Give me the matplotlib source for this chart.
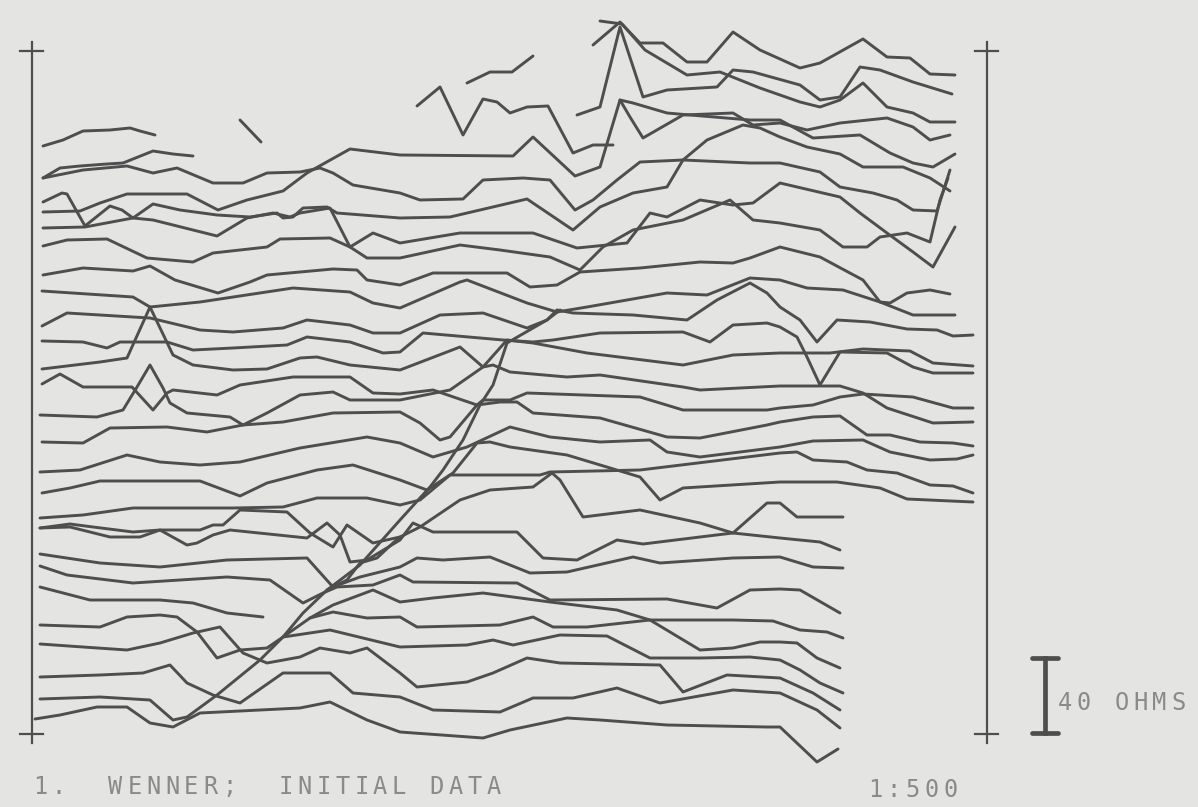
import matplotlib
matplotlib.use("Agg")
import matplotlib.pyplot as plt

# traces: (distance, plotted value) pairs, one list per traverse
t01 = [(43,146),(63,140),(83,131),(110,130),(130,128),(140,131),(155,135)]
t02 = [(240,120),(261,142)]
t03 = [(467,83),(490,72),(512,72),(533,56)]
t04 = [(417,106),(440,87),(463,135),(483,99),(497,102),(510,113),(527,107),(548,106),(573,153),(593,145),(613,145)]
t05 = [(577,115),(600,107),(620,27),(643,97),(667,90),(717,87),(733,70),(753,72),(800,85),(820,100),(840,97),(860,67),(880,70),(913,82),(952,94)]
t06 = [(593,45),(620,22),(640,43),(663,43),(687,62),(707,62),(733,32),(760,50),(800,68),(820,63),(863,39),(887,57),(910,58),(930,74),(955,75)]
t07 = [(600,21),(622,24),(645,50),(687,75),(720,72),(760,88),(800,102),(820,107),(840,100),(863,83),(887,107),(913,113),(930,122),(955,122)]
t08 = [(43,178),(60,168),(80,166),(107,164),(123,163),(153,151),(173,154),(193,156)]
t09 = [(43,178),(83,170),(127,166),(153,173),(177,168),(213,183),(243,183),(267,173),(300,172),(320,168),(333,173),(353,185),(400,193),(420,200),(463,199),(483,180),(523,178),(550,180),(575,210),(593,200),(617,180),(640,162),(683,160),(750,163),(780,163),(820,172),(840,187),(873,193),(897,200),(913,210),(937,211),(950,170)]
t10 = [(43,212),(80,211),(100,203),(127,194),(187,194),(218,210),(247,200),(283,191),(307,173),(350,149),(400,155),(513,156),(533,137),(575,176),(600,167),(620,100),(633,103),(667,113),(690,115),(750,120),(780,120),(813,138),(860,135),(890,153),(913,163),(933,167),(955,154)]
t11 = [(620,100),(630,117),(643,138),(683,115),(733,113),(753,125),(780,123),(807,130),(840,123),(887,118),(913,127),(930,140),(950,135)]
t12 = [(43,202),(62,193),(67,194),(85,226),(110,206),(122,210),(133,218),(153,204),(180,210),(217,215),(250,217),(277,213),(283,218),(293,217),(303,208),(327,207),(337,213),(400,218),(450,217),(527,199),(573,230),(600,207),(633,193),(667,187),(683,160),(707,140),(743,125),(760,128),(780,137),(807,147),(840,154),(863,167),(903,167),(930,178),(950,191)]
t13 = [(43,228),(85,227),(133,218),(153,220),(217,236),(247,218),(273,213),(290,217),(300,213),(330,208),(350,247),(373,233),(400,243),(460,233),(533,233),(577,248),(627,243),(650,213),(667,217),(700,200),(733,205),(753,203),(780,183),(840,197),(860,213),(887,233),(913,252),(933,267),(955,227)]
t14 = [(43,246),(67,240),(107,239),(147,258),(193,262),(213,253),(267,247),(280,239),(330,238),(350,247),(367,258),(400,258),(460,245),(500,250),(550,257),(580,270),(603,247),(633,230),(683,220),(730,200),(753,220),(780,223),(820,230),(843,247),(867,247),(880,237),(907,233),(930,242),(940,200),(948,178)]
t15 = [(43,275),(83,268),(133,271),(150,266),(175,280),(218,293),(250,282),(267,275),(333,269),(357,270),(367,280),(400,285),(433,273),(507,273),(530,287),(557,285),(580,272),(640,268),(700,262),(733,263),(750,258),(780,247),(820,257),(863,280),(880,302),(913,315),(955,315)]
t16 = [(42,291),(133,297),(150,307),(200,302),(293,288),(350,292),(373,303),(400,308),(460,282),(467,280),(527,303),(557,312),(587,307),(667,293),(707,295),(750,278),(780,280),(807,288),(843,290),(880,302),(890,303),(907,293),(930,290),(950,294)]
t17 = [(42,326),(67,313),(133,317),(150,318),(200,330),(233,332),(283,328),(307,320),(350,325),(373,333),(400,333),(440,315),(483,313),(527,328),(547,320),(557,310),(573,313),(633,315),(687,320),(717,300),(750,283),(767,293),(780,307),(800,320),(817,342),(837,320),(870,322),(907,329),(937,330),(953,336),(973,335)]
t18 = [(42,341),(83,342),(107,348),(120,342),(167,342),(193,350),(233,348),(287,345),(307,337),(350,342),(383,353),(400,352),(423,333),(503,340),(533,342),(553,340),(600,333),(683,332),(710,342),(733,325),(767,323),(780,327),(797,337),(807,357),(820,385),(840,352),(887,353),(913,367),(933,373),(973,373)]
t19 = [(42,369),(100,362),(127,358),(150,307),(173,355),(193,365),(233,370),(267,369),(300,358),(317,357),(350,365),(400,370),(460,347),(483,367),(507,340),(533,343),(587,353),(683,365),(733,355),(780,353),(830,353),(863,349),(910,351),(933,363),(973,366)]
t20 = [(42,384),(60,374),(83,387),(132,387),(153,410),(167,393),(173,390),(217,395),(240,385),(293,377),(350,377),(373,393),(400,394),(433,390),(477,405),(483,400),(510,400),(527,393),(640,397),(683,410),(767,410),(780,408),(813,405),(840,397),(863,394),(913,397),(953,408),(973,408)]
t21 = [(40,415),(97,417),(123,410),(137,387),(150,365),(163,388),(170,403),(187,413),(230,417),(243,425),(267,413),(300,395),(333,392),(350,400),(400,400),(450,390),(483,367),(493,365),(510,372),(567,377),(600,375),(683,387),(700,390),(780,386),(840,386),(863,393),(887,408),(933,423),(973,422)]
t22 = [(42,442),(83,443),(110,428),(167,427),(207,432),(243,425),(283,422),(333,413),(400,412),(420,423),(440,440),(450,437),(477,405),(500,402),(517,402),(533,413),(600,418),(667,437),(700,438),(767,425),(780,422),(813,417),(840,416),(867,435),(890,435),(920,442),(953,443),(973,446)]
t23 = [(40,472),(80,470),(127,455),(160,462),(200,465),(240,462),(300,448),(367,437),(400,443),(433,457),(467,447),(510,427),(550,437),(600,442),(650,440),(667,452),(700,457),(780,447),(813,441),(863,440),(890,452),(930,460),(957,459),(973,455)]
t24 = [(42,493),(70,488),(100,481),(200,481),(240,496),(267,483),(317,470),(353,465),(400,480),(427,490),(453,473),(477,443),(490,442),(510,447),(567,455),(640,477),(660,500),(683,488),(780,482),(837,482),(880,488),(907,499),(973,502)]
t25 = [(40,518),(83,515),(133,508),(233,508),(283,507),(317,498),(367,498),(400,505),(420,500),(450,475),(540,475),(550,472),(640,470),(780,453),(797,452),(813,460),(847,462),(867,470),(897,473),(930,485),(953,486),(973,493)]
t26 = [(40,528),(70,524),(93,527),(133,532),(160,530),(200,530),(213,525),(223,525),(240,510),(287,512),(310,533),(333,547),(347,525),(373,543),(400,537),(420,527),(460,500),(490,490),(533,487),(552,473),(560,480),(583,517),(640,510),(700,523),(733,533),(767,503),(780,503),(797,517),(843,517)]
t27 = [(40,528),(70,527),(110,537),(140,537),(160,530),(187,545),(197,543),(213,535),(230,530),(307,538),(327,523),(340,535),(350,562),(367,560),(400,540),(413,523),(433,532),(517,532),(543,558),(577,560),(617,540),(643,544),(700,537),(733,533),(780,538),(820,542),(840,550)]
t28 = [(40,554),(100,563),(160,567),(227,560),(307,558),(333,587),(360,577),(400,567),(417,558),(443,560),(490,557),(530,573),(567,572),(633,557),(660,563),(733,558),(780,557),(813,567),(843,568)]
t29 = [(40,566),(67,575),(133,583),(227,577),(270,580),(303,603),(323,593),(337,587),(373,585),(400,575),(413,582),(517,583),(550,600),(667,599),(717,608),(750,590),(780,589),(800,590),(840,613)]
t30 = [(40,587),(90,600),(160,600),(193,603),(227,613),(263,617)]
t31 = [(40,625),(100,627),(127,617),(160,615),(177,617),(197,632),(217,658),(240,650),(267,648),(283,637),(310,618),(333,612),(367,618),(400,617),(417,627),(500,625),(533,617),(553,627),(587,627),(650,620),(733,620),(773,621),(800,630),(827,632),(843,638)]
t32 = [(40,644),(83,647),(127,650),(160,643),(193,633),(220,627),(243,653),(267,663),(300,657),(320,648),(350,653),(367,648),(400,673),(417,687),(467,682),(493,673),(527,658),(560,663),(660,665),(683,692),(727,675),(780,678),(813,693),(840,710)]
t33 = [(40,677),(100,675),(143,673),(170,665),(187,683),(213,695),(240,703),(283,673),(330,673),(353,693),(400,697),(433,710),(500,712),(533,698),(573,698),(617,688),(660,703),(733,690),(780,693),(817,710),(840,728)]
t34 = [(40,699),(100,697),(150,700),(173,720),(187,717),(217,695),(260,660),(283,637),(303,613),(327,590),(360,565),(400,520),(430,487),(443,470),(463,440),(480,405),(493,385),(507,343),(547,320),(560,310)]
t35 = [(35,719),(60,715),(97,707),(127,707),(150,723),(173,727),(200,713),(300,708),(330,702),(367,720),(400,732),(483,738),(510,730),(567,718),(600,720),(667,725),(767,727),(780,727),(817,762),(838,749)]
t36 = [(283,637),(330,630),(400,647),(467,645),(493,640),(513,645),(560,635),(607,636),(650,658),(700,658),(750,657),(780,660),(800,670),(820,683),(843,693)]
t37 = [(310,618),(333,605),(373,590),(400,602),(433,598),(483,593),(550,602),(617,610),(650,620),(700,650),(733,648),(760,642),(780,642),(797,643),(817,658),(840,668)]
t38 = [(327,590),(347,580),(360,563),(377,558),(393,543),(400,537)]

traces = [t01, t02, t03, t04, t05, t06, t07, t08, t09, t10, t11, t12, t13, t14, t15,
          t16, t17, t18, t19, t20, t21, t22, t23, t24, t25, t26, t27, t28, t29, t30,
          t31, t32, t33, t34, t35, t36, t37, t38]

title_text = "1.  WENNER;  INITIAL DATA"
scale_text = "1:500"
bar_text = "40 OHMS"

bg = "#e4e4e2"
ink = "#4e4e4e"
txt = "#8a8a8a"

fig = plt.figure(figsize=(11.98, 8.07), dpi=100)
fig.patch.set_facecolor(bg)
ax = fig.add_axes([0, 0, 1, 1])
ax.set_facecolor(bg)
ax.set_xlim(0, 1198)
ax.set_ylim(807, 0)
ax.axis("off")

for tr in traces:
    xs = [p[0] for p in tr]
    ys = [p[1] for p in tr]
    ax.plot(xs, ys, color=ink, lw=2.1, solid_joinstyle="round", solid_capstyle="round")

# frame: two vertical bars with end crosses
for xa in (32, 987):
    ax.plot([xa, xa], [42, 743], color=ink, lw=1.6)
    for yc in (51, 734):
        ax.plot([xa - 12, xa + 11], [yc, yc], color=ink, lw=1.6)

# 40 ohm scale bar
ax.plot([1045, 1045], [658, 733], color=ink, lw=3.4)
ax.plot([1032, 1058], [658, 658], color=ink, lw=3.4, solid_capstyle="round")
ax.plot([1032, 1058], [733, 733], color=ink, lw=3.4, solid_capstyle="round")


def plot_chars(s, x0, y, adv=18.9, size=17):
    # plotter lettering: fixed pitch, one glyph per cell
    for i, ch in enumerate(s):
        if ch == " ":
            continue
        ax.text(x0 + i * adv, y, ch, ha="center", va="center", fontsize=size,
                color=txt, family="DejaVu Sans Mono")


plot_chars(title_text, 40, 787)
plot_chars(scale_text, 875, 790)
plot_chars(bar_text, 1065, 703)

fig.savefig("out.png", dpi=100, facecolor=bg)
